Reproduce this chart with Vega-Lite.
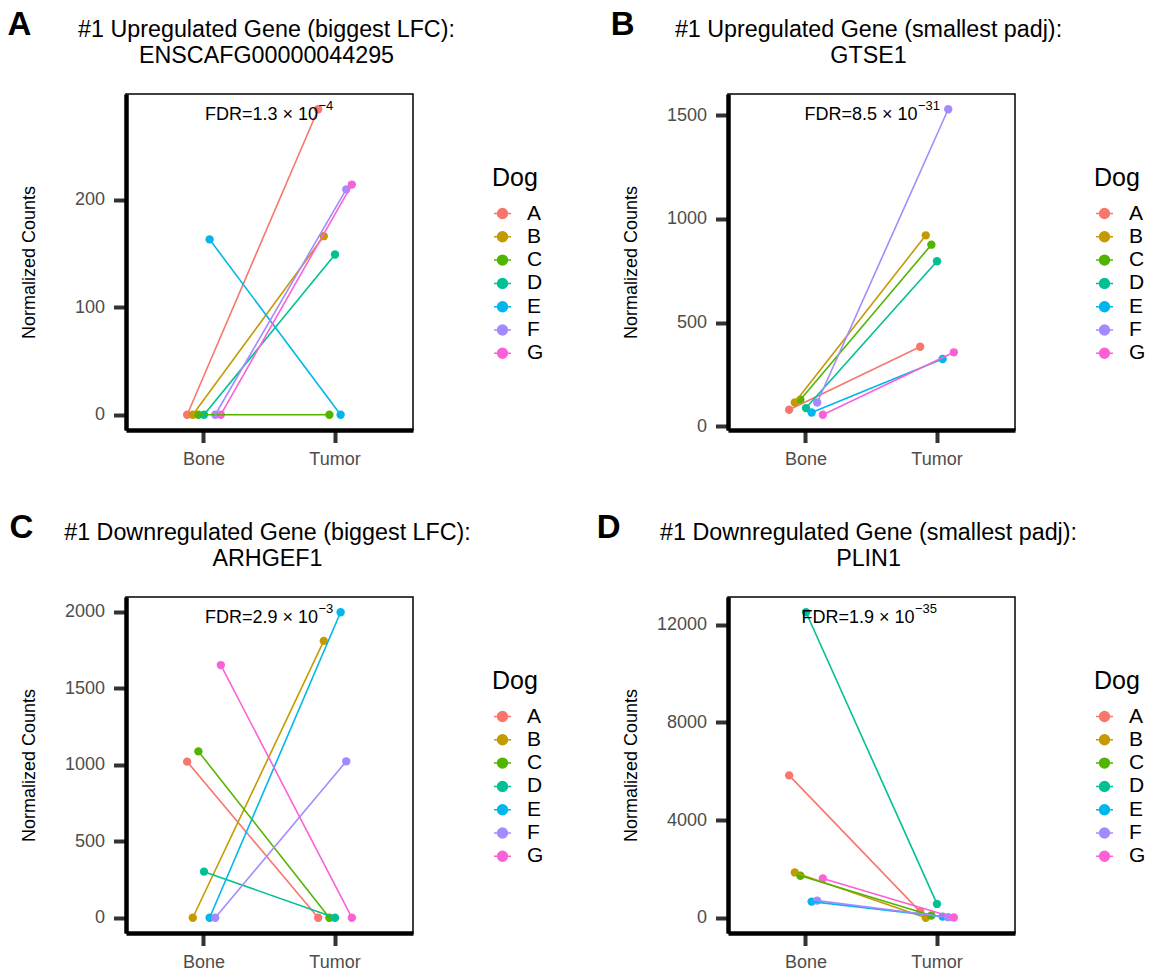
{
  "$schema": "https://vega.github.io/schema/vega-lite/v6.json",
  "padding": {"left": 7, "top": 8, "right": 5, "bottom": 5},
  "background": "white",
  "config": {
    "font": "Liberation Sans",
    "view": {"stroke": "black", "strokeWidth": 1.5},
    "axis": {
      "grid": false,
      "domainColor": "black",
      "domainWidth": 4.5,
      "tickColor": "#333333",
      "tickWidth": 4,
      "tickSize": 12.5,
      "labelColor": "#4D4D4D",
      "labelFontSize": 18,
      "labelFont": "Liberation Sans",
      "labelPadding": 8,
      "titleColor": "black",
      "titleFontSize": 18,
      "titleFontWeight": "normal",
      "titleFont": "Liberation Sans"
    },
    "axisY": {"minExtent": 72, "maxExtent": 72, "titlePadding": 16, "labelPadding": 9},
    "legend": {
      "titleFontSize": 25,
      "titleFontWeight": "normal",
      "titleColor": "black",
      "labelFontSize": 21,
      "labelColor": "black",
      "symbolType": "M-1,0L1,0M0.58,0A0.58,0.58,0,1,1,-0.58,0A0.58,0.58,0,1,1,0.58,0Z",
      "symbolSize": 289,
      "symbolStrokeWidth": 1.5,
      "rowPadding": 1.3,
      "labelOffset": 14,
      "titlePadding": 12
    },
    "title": {"font": "Liberation Sans", "color": "black"}
  },
  "datasets": {
    "a": [
      {"dog": "A", "tissue": "Bone", "count": 0},
      {"dog": "B", "tissue": "Bone", "count": 0},
      {"dog": "C", "tissue": "Bone", "count": 0},
      {"dog": "D", "tissue": "Bone", "count": 0},
      {"dog": "E", "tissue": "Bone", "count": 163},
      {"dog": "F", "tissue": "Bone", "count": 0},
      {"dog": "G", "tissue": "Bone", "count": 0},
      {"dog": "A", "tissue": "Tumor", "count": 284},
      {"dog": "B", "tissue": "Tumor", "count": 166},
      {"dog": "C", "tissue": "Tumor", "count": 0},
      {"dog": "D", "tissue": "Tumor", "count": 149},
      {"dog": "E", "tissue": "Tumor", "count": 0},
      {"dog": "F", "tissue": "Tumor", "count": 209.5},
      {"dog": "G", "tissue": "Tumor", "count": 214}
    ],
    "b": [
      {"dog": "A", "tissue": "Bone", "count": 80},
      {"dog": "B", "tissue": "Bone", "count": 115},
      {"dog": "C", "tissue": "Bone", "count": 128},
      {"dog": "D", "tissue": "Bone", "count": 88},
      {"dog": "E", "tissue": "Bone", "count": 67},
      {"dog": "F", "tissue": "Bone", "count": 115},
      {"dog": "G", "tissue": "Bone", "count": 56},
      {"dog": "A", "tissue": "Tumor", "count": 384},
      {"dog": "B", "tissue": "Tumor", "count": 921},
      {"dog": "C", "tissue": "Tumor", "count": 876},
      {"dog": "D", "tissue": "Tumor", "count": 796},
      {"dog": "E", "tissue": "Tumor", "count": 325},
      {"dog": "F", "tissue": "Tumor", "count": 1529},
      {"dog": "G", "tissue": "Tumor", "count": 357}
    ],
    "c": [
      {"dog": "A", "tissue": "Bone", "count": 1020},
      {"dog": "B", "tissue": "Bone", "count": 0},
      {"dog": "C", "tissue": "Bone", "count": 1087},
      {"dog": "D", "tissue": "Bone", "count": 301},
      {"dog": "E", "tissue": "Bone", "count": 0},
      {"dog": "F", "tissue": "Bone", "count": 0},
      {"dog": "G", "tissue": "Bone", "count": 1651},
      {"dog": "A", "tissue": "Tumor", "count": 0},
      {"dog": "B", "tissue": "Tumor", "count": 1809},
      {"dog": "C", "tissue": "Tumor", "count": 0},
      {"dog": "D", "tissue": "Tumor", "count": 0},
      {"dog": "E", "tissue": "Tumor", "count": 1996},
      {"dog": "F", "tissue": "Tumor", "count": 1022},
      {"dog": "G", "tissue": "Tumor", "count": 0}
    ],
    "d": [
      {"dog": "A", "tissue": "Bone", "count": 5835},
      {"dog": "B", "tissue": "Bone", "count": 1860},
      {"dog": "C", "tissue": "Bone", "count": 1723},
      {"dog": "D", "tissue": "Bone", "count": 12513},
      {"dog": "E", "tissue": "Bone", "count": 665},
      {"dog": "F", "tissue": "Bone", "count": 706},
      {"dog": "G", "tissue": "Bone", "count": 1615},
      {"dog": "A", "tissue": "Tumor", "count": 257},
      {"dog": "B", "tissue": "Tumor", "count": 5},
      {"dog": "C", "tissue": "Tumor", "count": 95},
      {"dog": "D", "tissue": "Tumor", "count": 570},
      {"dog": "E", "tissue": "Tumor", "count": 50},
      {"dog": "F", "tissue": "Tumor", "count": 27},
      {"dog": "G", "tissue": "Tumor", "count": 15}
    ]
  },
  "columns": 2,
  "bounds": "flush",
  "spacing": {"row": 503, "column": 602},
  "resolve": {
    "scale": {"x": "independent", "y": "independent", "color": "independent", "xOffset": "independent"},
    "legend": {"color": "independent"}
  },
  "concat": [
    {
      "title": {"text": "A", "anchor": "start", "frame": "group", "fontSize": 33, "fontWeight": "bold", "offset": 0, "dx": -118.5, "dy": 25},
      "resolve": {"scale": {"x": "independent", "y": "independent", "color": "independent", "xOffset": "independent"}, "legend": {"color": "independent"}},
      "hconcat": [
        {
          "width": 287,
          "height": 336,
          "title": {"text": ["#1 Upregulated Gene (biggest LFC):", "ENSCAFG00000044295"], "fontSize": 23.3, "fontWeight": "normal", "lineHeight": 26, "anchor": "middle", "frame": "group", "offset": 26, "dx": -3},
          "data": {"name": "a"},
          "layer": [
            {
              "mark": {"type": "point", "filled": true, "size": 70, "opacity": 1},
              "encoding": {
                "x": {"field": "tissue", "type": "nominal", "sort": ["Bone", "Tumor"], "scale": {"type": "band", "paddingInner": 0.7, "paddingOuter": 0.4454}, "axis": {"title": null, "labelAngle": 0}},
                "xOffset": {"field": "dog", "type": "nominal", "scale": {"type": "band", "paddingInner": 0, "paddingOuter": 0}},
                "y": {"field": "count", "type": "quantitative", "title": "Normalized Counts", "scale": {"domain": [-14.2, 298.2], "nice": false, "zero": false}, "axis": {"values": [0, 100, 200], "format": "d"}},
                "color": {"field": "dog", "type": "nominal", "scale": {"domain": ["A", "B", "C", "D", "E", "F", "G"], "range": ["#F8766D", "#C49A00", "#53B400", "#00C094", "#00B6EB", "#A58AFF", "#FB61D7"]}, "legend": {"title": "Dog", "orient": "none", "legendX": 366, "legendY": 72}}
              }
            },
            {
              "mark": {"type": "line", "strokeWidth": 1.6},
              "encoding": {
                "x": {"field": "tissue", "type": "nominal", "sort": ["Bone", "Tumor"]},
                "xOffset": {"field": "dog", "type": "nominal"},
                "y": {"field": "count", "type": "quantitative", "title": "Normalized Counts"},
                "color": {"field": "dog", "type": "nominal"}
              }
            },
            {
              "mark": {"type": "text", "fontSize": 18, "color": "black", "align": "right", "baseline": "alphabetic", "dx": 48.5, "dy": 10.7},
              "encoding": {
                "y": {"aggregate": "max", "field": "count", "type": "quantitative", "title": "Normalized Counts"},
                "text": {"value": "FDR=1.3 × 10"}
              }
            },
            {
              "mark": {"type": "text", "fontSize": 13, "color": "black", "align": "left", "baseline": "alphabetic", "dx": 49, "dy": 1},
              "encoding": {
                "y": {"aggregate": "max", "field": "count", "type": "quantitative", "title": "Normalized Counts"},
                "text": {"value": "−4"}
              }
            }
          ]
        }
      ]
    },
    {
      "title": {"text": "B", "anchor": "start", "frame": "group", "fontSize": 33, "fontWeight": "bold", "offset": 0, "dx": -117.3, "dy": 25},
      "resolve": {"scale": {"x": "independent", "y": "independent", "color": "independent", "xOffset": "independent"}, "legend": {"color": "independent"}},
      "hconcat": [
        {
          "width": 287,
          "height": 336,
          "title": {"text": ["#1 Upregulated Gene (smallest padj):", "GTSE1"], "fontSize": 23.3, "fontWeight": "normal", "lineHeight": 26, "anchor": "middle", "frame": "group", "offset": 26, "dx": -3},
          "data": {"name": "b"},
          "layer": [
            {
              "mark": {"type": "point", "filled": true, "size": 70, "opacity": 1},
              "encoding": {
                "x": {"field": "tissue", "type": "nominal", "sort": ["Bone", "Tumor"], "scale": {"type": "band", "paddingInner": 0.7, "paddingOuter": 0.4454}, "axis": {"title": null, "labelAngle": 0}},
                "xOffset": {"field": "dog", "type": "nominal", "scale": {"type": "band", "paddingInner": 0, "paddingOuter": 0}},
                "y": {"field": "count", "type": "quantitative", "title": "Normalized Counts", "scale": {"domain": [-17.65, 1602.65], "nice": false, "zero": false}, "axis": {"values": [0, 500, 1000, 1500], "format": "d"}},
                "color": {"field": "dog", "type": "nominal", "scale": {"domain": ["A", "B", "C", "D", "E", "F", "G"], "range": ["#F8766D", "#C49A00", "#53B400", "#00C094", "#00B6EB", "#A58AFF", "#FB61D7"]}, "legend": {"title": "Dog", "orient": "none", "legendX": 366, "legendY": 72}}
              }
            },
            {
              "mark": {"type": "line", "strokeWidth": 1.6},
              "encoding": {
                "x": {"field": "tissue", "type": "nominal", "sort": ["Bone", "Tumor"]},
                "xOffset": {"field": "dog", "type": "nominal"},
                "y": {"field": "count", "type": "quantitative", "title": "Normalized Counts"},
                "color": {"field": "dog", "type": "nominal"}
              }
            },
            {
              "mark": {"type": "text", "fontSize": 18, "color": "black", "align": "right", "baseline": "alphabetic", "dx": 46, "dy": 10.7},
              "encoding": {
                "y": {"aggregate": "max", "field": "count", "type": "quantitative", "title": "Normalized Counts"},
                "text": {"value": "FDR=8.5 × 10"}
              }
            },
            {
              "mark": {"type": "text", "fontSize": 13, "color": "black", "align": "left", "baseline": "alphabetic", "dx": 46.5, "dy": 1},
              "encoding": {
                "y": {"aggregate": "max", "field": "count", "type": "quantitative", "title": "Normalized Counts"},
                "text": {"value": "−31"}
              }
            }
          ]
        }
      ]
    },
    {
      "title": {"text": "C", "anchor": "start", "frame": "group", "fontSize": 33, "fontWeight": "bold", "offset": 0, "dx": -116.5, "dy": 25},
      "resolve": {"scale": {"x": "independent", "y": "independent", "color": "independent", "xOffset": "independent"}, "legend": {"color": "independent"}},
      "hconcat": [
        {
          "width": 287,
          "height": 336,
          "title": {"text": ["#1 Downregulated Gene (biggest LFC):", "ARHGEF1"], "fontSize": 23.3, "fontWeight": "normal", "lineHeight": 26, "anchor": "middle", "frame": "group", "offset": 26, "dx": -2},
          "data": {"name": "c"},
          "layer": [
            {
              "mark": {"type": "point", "filled": true, "size": 70, "opacity": 1},
              "encoding": {
                "x": {"field": "tissue", "type": "nominal", "sort": ["Bone", "Tumor"], "scale": {"type": "band", "paddingInner": 0.7, "paddingOuter": 0.4454}, "axis": {"title": null, "labelAngle": 0}},
                "xOffset": {"field": "dog", "type": "nominal", "scale": {"type": "band", "paddingInner": 0, "paddingOuter": 0}},
                "y": {"field": "count", "type": "quantitative", "title": "Normalized Counts", "scale": {"domain": [-99.8, 2095.8], "nice": false, "zero": false}, "axis": {"values": [0, 500, 1000, 1500, 2000], "format": "d"}},
                "color": {"field": "dog", "type": "nominal", "scale": {"domain": ["A", "B", "C", "D", "E", "F", "G"], "range": ["#F8766D", "#C49A00", "#53B400", "#00C094", "#00B6EB", "#A58AFF", "#FB61D7"]}, "legend": {"title": "Dog", "orient": "none", "legendX": 366, "legendY": 72}}
              }
            },
            {
              "mark": {"type": "line", "strokeWidth": 1.6},
              "encoding": {
                "x": {"field": "tissue", "type": "nominal", "sort": ["Bone", "Tumor"]},
                "xOffset": {"field": "dog", "type": "nominal"},
                "y": {"field": "count", "type": "quantitative", "title": "Normalized Counts"},
                "color": {"field": "dog", "type": "nominal"}
              }
            },
            {
              "mark": {"type": "text", "fontSize": 18, "color": "black", "align": "right", "baseline": "alphabetic", "dx": 48.5, "dy": 10.7},
              "encoding": {
                "y": {"aggregate": "max", "field": "count", "type": "quantitative", "title": "Normalized Counts"},
                "text": {"value": "FDR=2.9 × 10"}
              }
            },
            {
              "mark": {"type": "text", "fontSize": 13, "color": "black", "align": "left", "baseline": "alphabetic", "dx": 49, "dy": 1},
              "encoding": {
                "y": {"aggregate": "max", "field": "count", "type": "quantitative", "title": "Normalized Counts"},
                "text": {"value": "−3"}
              }
            }
          ]
        }
      ]
    },
    {
      "title": {"text": "D", "anchor": "start", "frame": "group", "fontSize": 33, "fontWeight": "bold", "offset": 0, "dx": -131.3, "dy": 25},
      "resolve": {"scale": {"x": "independent", "y": "independent", "color": "independent", "xOffset": "independent"}, "legend": {"color": "independent"}},
      "hconcat": [
        {
          "width": 287,
          "height": 336,
          "title": {"text": ["#1 Downregulated Gene (smallest padj):", "PLIN1"], "fontSize": 23.3, "fontWeight": "normal", "lineHeight": 26, "anchor": "middle", "frame": "group", "offset": 26, "dx": -3},
          "data": {"name": "d"},
          "layer": [
            {
              "mark": {"type": "point", "filled": true, "size": 70, "opacity": 1},
              "encoding": {
                "x": {"field": "tissue", "type": "nominal", "sort": ["Bone", "Tumor"], "scale": {"type": "band", "paddingInner": 0.7, "paddingOuter": 0.4454}, "axis": {"title": null, "labelAngle": 0}},
                "xOffset": {"field": "dog", "type": "nominal", "scale": {"type": "band", "paddingInner": 0, "paddingOuter": 0}},
                "y": {"field": "count", "type": "quantitative", "title": "Normalized Counts", "scale": {"domain": [-620.4, 13138.4], "nice": false, "zero": false}, "axis": {"values": [0, 4000, 8000, 12000], "format": "d"}},
                "color": {"field": "dog", "type": "nominal", "scale": {"domain": ["A", "B", "C", "D", "E", "F", "G"], "range": ["#F8766D", "#C49A00", "#53B400", "#00C094", "#00B6EB", "#A58AFF", "#FB61D7"]}, "legend": {"title": "Dog", "orient": "none", "legendX": 366, "legendY": 72}}
              }
            },
            {
              "mark": {"type": "line", "strokeWidth": 1.6},
              "encoding": {
                "x": {"field": "tissue", "type": "nominal", "sort": ["Bone", "Tumor"]},
                "xOffset": {"field": "dog", "type": "nominal"},
                "y": {"field": "count", "type": "quantitative", "title": "Normalized Counts"},
                "color": {"field": "dog", "type": "nominal"}
              }
            },
            {
              "mark": {"type": "text", "fontSize": 18, "color": "black", "align": "right", "baseline": "alphabetic", "dx": 43, "dy": 10.7},
              "encoding": {
                "y": {"aggregate": "max", "field": "count", "type": "quantitative", "title": "Normalized Counts"},
                "text": {"value": "FDR=1.9 × 10"}
              }
            },
            {
              "mark": {"type": "text", "fontSize": 13, "color": "black", "align": "left", "baseline": "alphabetic", "dx": 43.5, "dy": 1},
              "encoding": {
                "y": {"aggregate": "max", "field": "count", "type": "quantitative", "title": "Normalized Counts"},
                "text": {"value": "−35"}
              }
            }
          ]
        }
      ]
    }
  ]
}
